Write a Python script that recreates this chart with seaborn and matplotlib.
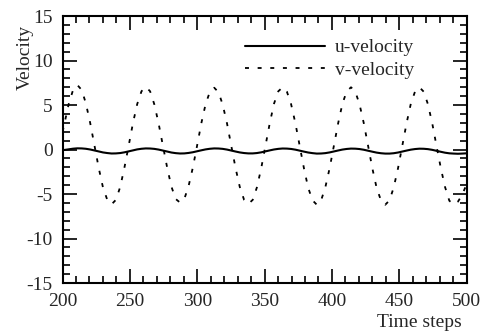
import matplotlib
matplotlib.use('Agg')
import matplotlib.pyplot as plt
from matplotlib.ticker import MultipleLocator
import seaborn as sns


# Valores (passos de tempo e velocidades)
time_steps = [200.0, 201.5, 204.6, 207.8,
              211.0, 214.2, 217.3, 220.5, 223.7, 226.9, 230.0, 233.2, 236.4, 239.6, 242.8, 245.9, 249.1, 252.3, 255.4, 258.6,
              261.8, 265.0, 268.1, 271.3, 274.5, 277.7, 280.8, 284.0, 287.2, 290.4, 293.5, 296.7, 299.9, 303.1, 306.2, 309.4,
              312.6, 315.8, 318.9, 322.1, 325.3, 328.5, 331.6, 334.8, 338.0, 341.2, 344.3, 347.5, 350.7, 353.9, 357.0, 360.2,
              363.4, 366.6, 369.7, 372.9, 376.1, 379.3, 382.4, 385.6, 388.8, 392.0, 395.1, 398.3, 401.5, 404.7, 407.8, 411.0,
              414.2, 417.4, 420.5, 423.7, 426.9, 430.1, 433.2, 436.4, 439.6, 442.8, 445.9, 449.1, 452.3, 455.5, 458.6, 461.8,
              465.0, 468.2, 471.3, 474.5, 477.7, 480.9, 484.0, 487.2, 490.4, 493.6, 496.7, 500.0]

u_velocity = [-0.06, -0.04, 0.03, 0.10,
              0.14, 0.13, 0.09, 0.01, -0.10, -0.21, -0.32, -0.39, -0.44, -0.43, -0.39, -0.31, -0.20, -0.09, 0.02, 0.09,
              0.13, 0.12, 0.08, 0.00, -0.11, -0.22, -0.33, -0.40, -0.44, -0.43, -0.38, -0.30, -0.19, -0.08, 0.02, 0.09,
              0.13, 0.12, 0.08, 0.00, -0.11, -0.22, -0.32, -0.39, -0.43, -0.43, -0.39, -0.31, -0.20, -0.09, 0.01, 0.08,
              0.12, 0.11, 0.07, -0.01, -0.12, -0.23, -0.33, -0.40, -0.45, -0.44, -0.40, -0.32, -0.21, -0.10, 0.00, 0.07,
              0.11, 0.10, 0.06, -0.02, -0.13, -0.24, -0.34, -0.41, -0.45, -0.45, -0.41, -0.33, -0.22, -0.11, -0.01, 0.06,
              0.10, 0.09, 0.05, -0.03, -0.14, -0.25, -0.35, -0.42, -0.45, -0.47, -0.45, -0.42]

v_velocity = [2.00, 3.00, 5.15, 6.70,
              7.25, 6.70, 5.20, 3.00, 0.45, -2.10, -4.25, -5.65, -6.15, -5.65, -4.20, -2.05, 0.45, 3.00, 5.10, 6.55,
              7.05, 6.55, 5.10, 2.95, 0.45, -2.05, -4.15, -5.55, -5.95, -5.55, -4.15, -2.05, 0.45, 3.00, 5.10, 6.50,
              6.95, 6.45, 5.05, 2.95, 0.40, -2.10, -4.20, -5.65, -6.10, -5.65, -4.25, -2.10, 0.45, 3.00, 5.15, 6.55,
              7.00, 6.50, 5.10, 2.95, 0.40, -2.15, -4.30, -5.70, -6.20, -5.70, -4.25, -2.10, 0.45, 3.00, 5.15, 6.55,
              7.00, 6.50, 5.10, 2.95, 0.40, -2.15, -4.30, -5.70, -6.20, -5.70, -4.25, -2.10, 0.45, 3.00, 5.15, 6.55,
              7.00, 6.50, 5.10, 2.95, 0.40, -2.10, -4.20, -5.75, -6.15, -5.85, -5.10, -3.90]


sns.set_style('ticks')
plt.rcParams['font.family'] = ['Liberation Serif', 'DejaVu Serif']
plt.rcParams['axes.unicode_minus'] = False

fig = plt.figure(figsize=(4.85, 3.35), dpi=100)
ax = fig.add_axes([0.129, 0.155, 0.833, 0.797])

# Curvas
sns.lineplot(x=time_steps, y=u_velocity, color='black', linewidth=1.5,
             label='u-velocity', ax=ax)
sns.lineplot(x=time_steps, y=v_velocity, color='black', linewidth=1.3,
             linestyle=(0, (2.2, 4.8)), label='v-velocity', ax=ax)

# Eixos
ax.set_xlim(200, 500)
ax.set_ylim(-15, 15)
ax.set_xticks([200, 250, 300, 350, 400, 450, 500])
ax.set_yticks([-15, -10, -5, 0, 5, 10, 15])
ax.xaxis.set_minor_locator(MultipleLocator(10))
ax.yaxis.set_minor_locator(MultipleLocator(1))
ax.tick_params(which='both', direction='in', top=True, right=True,
               width=1.2, color='black', labelsize=14)
ax.tick_params(which='major', length=10)
ax.tick_params(which='minor', length=5)
ax.tick_params(axis='y', pad=7)
ax.tick_params(axis='x', pad=7)
for spine in ax.spines.values():
    spine.set_linewidth(1.5)
    spine.set_color('black')

ax.set_xlabel('Time steps', fontsize=14, loc='right')
ax.xaxis.set_label_coords(0.988, -0.115)
ax.set_ylabel('Velocity', fontsize=14)
ax.yaxis.set_label_coords(-0.072, 0.846)

ax.legend(loc='upper right', bbox_to_anchor=(0.87, 0.915), frameon=False,
          fontsize=14, handlelength=4.1, handletextpad=0.5,
          labelspacing=0.24, borderpad=0, borderaxespad=0)

plt.savefig('out.png', dpi=100)
